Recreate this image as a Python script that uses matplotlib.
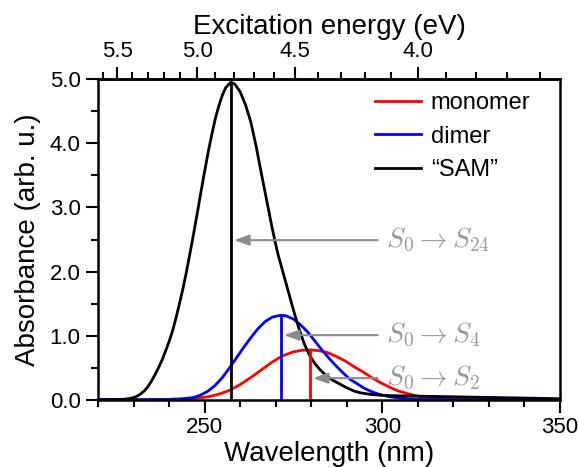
import numpy as np
import matplotlib
matplotlib.use('Agg')
import matplotlib.pyplot as plt
from matplotlib.ticker import MultipleLocator, FixedLocator, FormatStrFormatter

plt.rcParams['font.family'] = ['Liberation Sans', 'DejaVu Sans']
plt.rcParams['mathtext.fontset'] = 'cm'

# spectra (wavelength in nm, absorbance in arb. u.)
sam_wl = [220, 224, 226, 227.5, 229, 230, 231, 232, 233, 234, 235, 236, 237, 238,
          239, 240, 241, 242, 243, 244, 245, 246, 247, 248, 249, 250, 251, 252,
          253, 254, 255, 256, 257.4, 258.5, 260, 261.5, 263, 264.5, 266, 267.5,
          269, 270.5, 272, 273.5, 275, 276.5, 278, 279.5, 281, 282.5, 284, 286,
          288, 290, 292, 294, 297, 300, 305, 310, 320, 330, 340, 350]
sam_abs = [0.003, 0.005, 0.008, 0.013, 0.025, 0.038, 0.06, 0.095, 0.14, 0.205,
           0.29, 0.39, 0.50, 0.62, 0.76, 0.91, 1.08, 1.29, 1.52, 1.76, 2.03, 2.32,
           2.62, 2.93, 3.25, 3.56, 3.86, 4.13, 4.38, 4.58, 4.75, 4.87, 4.95, 4.92,
           4.80, 4.60, 4.33, 3.95, 3.52, 3.10, 2.68, 2.30, 2.00, 1.70, 1.40, 1.12,
           0.88, 0.70, 0.57, 0.47, 0.39, 0.31, 0.25, 0.19, 0.14, 0.11, 0.085,
           0.072, 0.065, 0.06, 0.05, 0.04, 0.03, 0.02]

dimer_wl = [220, 230, 240, 244, 247, 249, 251, 253, 255, 257, 259, 261, 263, 265,
            267, 269, 271.4, 273, 275, 277, 279, 281, 283, 285, 287, 289, 291,
            293, 295, 297, 299, 302, 305, 310, 320, 350]
dimer_abs = [0.01, 0.005, 0.01, 0.02, 0.04, 0.08, 0.14, 0.23, 0.35, 0.50, 0.66,
             0.82, 0.97, 1.11, 1.22, 1.29, 1.32, 1.31, 1.26, 1.17, 1.06, 0.92,
             0.78, 0.65, 0.53, 0.42, 0.32, 0.25, 0.18, 0.13, 0.09, 0.05, 0.03,
             0.01, 0.005, 0.0]

mono_wl = [220, 240, 245, 248, 251, 254, 257, 260, 263, 266, 269, 272, 275, 277.5,
           279.5, 282, 284.5, 287, 289.5, 292, 294.5, 297, 299.5, 302, 304.5, 307,
           310, 313, 318, 325, 335, 350]
mono_abs = [0.0, 0.005, 0.015, 0.03, 0.05, 0.09, 0.15, 0.24, 0.35, 0.47, 0.59,
            0.69, 0.75, 0.775, 0.78, 0.77, 0.74, 0.68, 0.61, 0.52, 0.44, 0.35,
            0.27, 0.20, 0.14, 0.10, 0.06, 0.04, 0.02, 0.015, 0.01, 0.005]

# brightest transitions (sticks)
stick_wl = [279.6, 271.4, 257.4]
stick_h = [0.78, 1.32, 4.95]
stick_col = ['red', 'blue', 'black']
stick_labels = [r'$S_0 \rightarrow S_2$', r'$S_0 \rightarrow S_4$', r'$S_0 \rightarrow S_{24}$']
arrow_y = [0.34, 1.01, 2.49]

energy_ticks = [4.0, 4.5, 5.0, 5.5]

fig = plt.figure(figsize=(5.79, 4.67), dpi=100)
ax = fig.add_axes([98/579, 67/467, 462/579, 321/467])

ax.plot(mono_wl, mono_abs, color='red', lw=2, label='monomer')
ax.plot(dimer_wl, dimer_abs, color='blue', lw=2, label='dimer')
ax.plot(sam_wl, sam_abs, color='black', lw=2, label='\u201cSAM\u201d')
ax.vlines(stick_wl, 0, stick_h, colors=stick_col, lw=2)

for wl, y, lab in zip(stick_wl, arrow_y, stick_labels):
    ax.annotate(lab, xy=(wl + 0.9, y), xytext=(301.0, y), color='#9a9a9a',
                fontsize=20, ha='left', va='center',
                arrowprops=dict(arrowstyle='-|>,head_length=0.5,head_width=0.18',
                                color='#8c8c8c', lw=1.5, mutation_scale=18,
                                shrinkA=4, shrinkB=0))

ax.set_xlim(220, 350)
ax.set_ylim(0, 5)
ax.xaxis.set_major_locator(MultipleLocator(50))
ax.xaxis.set_minor_locator(MultipleLocator(10))
ax.yaxis.set_major_locator(MultipleLocator(1))
ax.yaxis.set_minor_locator(MultipleLocator(0.5))
ax.yaxis.set_major_formatter(FormatStrFormatter('%.1f'))
ax.tick_params(which='both', direction='out', width=1.5, labelsize=16, right=False, top=False)
ax.tick_params(which='major', length=9)
ax.tick_params(which='minor', length=5)
for s in ax.spines.values():
    s.set_linewidth(1.8)

ax.set_xlabel('Wavelength (nm)', fontsize=20, labelpad=2)
ax.set_ylabel('Absorbance (arb. u.)', fontsize=20, labelpad=6)

top = ax.secondary_xaxis('top', functions=(lambda x: 1239.84 / x, lambda x: 1239.84 / x))
top.xaxis.set_major_locator(FixedLocator(energy_ticks))
top.xaxis.set_minor_locator(FixedLocator(np.arange(3.6, 5.65, 0.1)))
top.xaxis.set_major_formatter(FormatStrFormatter('%.1f'))
top.tick_params(which='both', direction='out', width=1.5, labelsize=16)
top.tick_params(which='major', length=9)
top.tick_params(which='minor', length=5)
top.spines['top'].set_linewidth(1.8)
top.set_xlabel('Excitation energy (eV)', fontsize=20, labelpad=5)

ax.legend(loc='upper left', bbox_to_anchor=(0.6, 0.96), frameon=False, fontsize=17,
          borderpad=0, borderaxespad=0, handlelength=1.95, handletextpad=0.4,
          labelspacing=0.5)

fig.savefig('out.png', dpi=100)
